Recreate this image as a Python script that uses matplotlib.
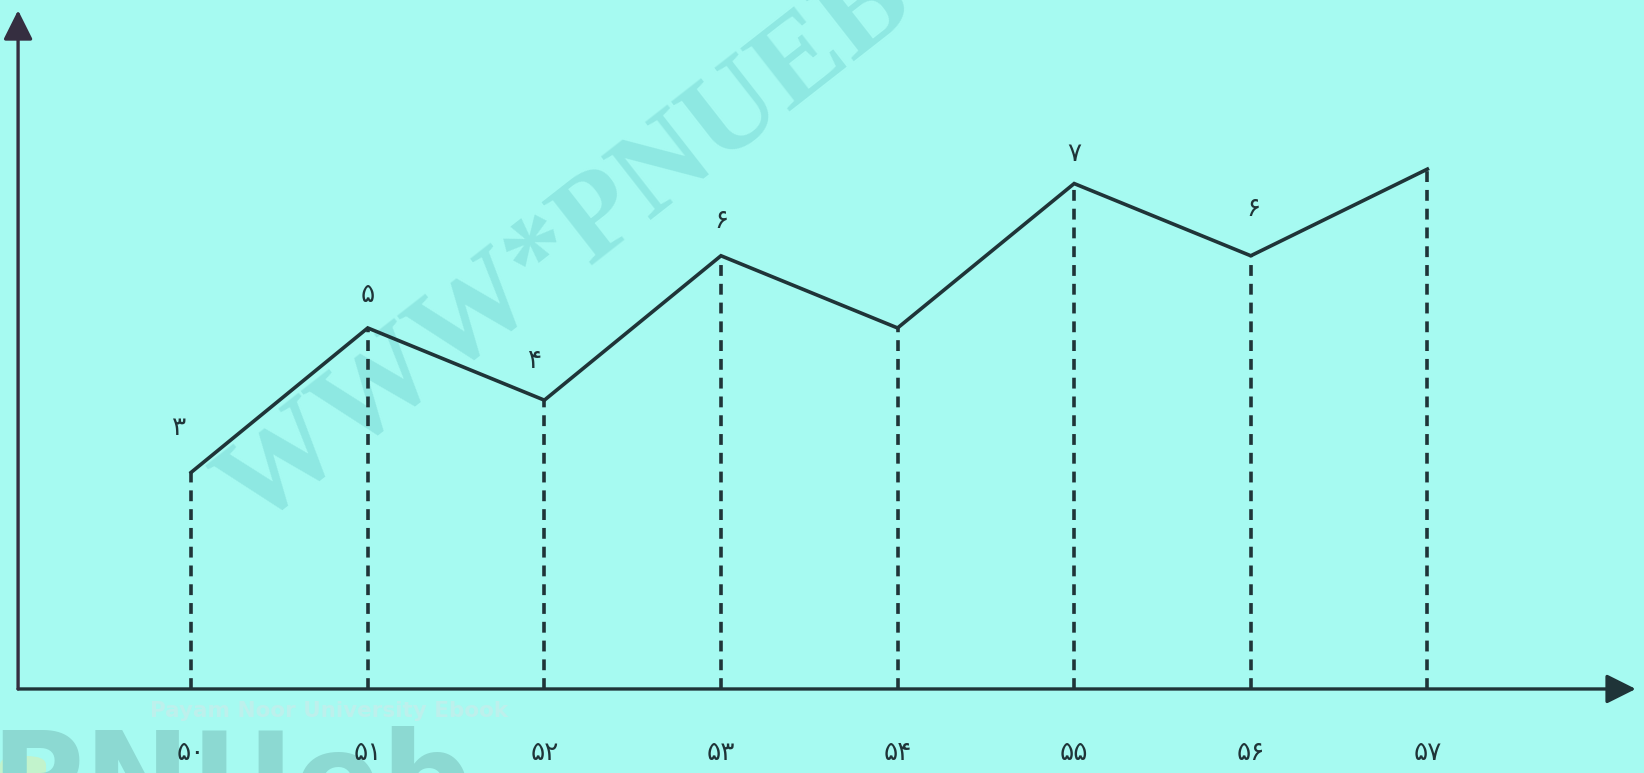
import numpy as np
import matplotlib.pyplot as plt
from matplotlib.patches import FancyBboxPatch

# data
years = [50, 51, 52, 53, 54, 55, 56, 57]
year_labels = ['۵۰', '۵۱', '۵۲', '۵۳', '۵۴', '۵۵', '۵۶', '۵۷']
values = [3, 5, 4, 6, 5, 7, 6, 7.2]
point_labels = ['۳', '۵', '۴', '۶', '', '۷', '۶', '']

BG = '#a6faf1'
INK = '#1f3438'

fig = plt.figure(figsize=(16.44, 7.73), dpi=100)
fig.patch.set_facecolor(BG)

# ---- background decorations (watermark / logo) ----
fig.text(0.345, 0.68, 'WWW*PNUEB', rotation=38, fontsize=88, fontweight='bold',
         family='Liberation Serif', color='#8ee8e2', ha='center', va='center', zorder=-2)
fig.patches.append(FancyBboxPatch((0.0, -0.05), 0.028, 0.072, boxstyle='round,pad=0,rounding_size=0.012',
                                  transform=fig.transFigure, facecolor='#c2f3cc',
                                  edgecolor='none', zorder=-3))
fig.text(-0.006, -0.066, 'PNUeb', fontsize=92, fontweight='bold', family='DejaVu Sans',
         color='#8cd9d2', ha='left', va='baseline', zorder=-2)
fig.text(0.091, 0.080, 'Payam Noor University Ebook', fontsize=15.5, fontweight='bold',
         family='DejaVu Sans', color='#bdf0ec', ha='left', va='center', zorder=-1)

ax = fig.add_axes([0.011, 0.1087, 0.984, 0.878])
ax.set_facecolor('none')
ax.set_xlim(49.02, 58.18)
ax.set_ylim(0, 9.40)
for s in ax.spines.values():
    s.set_visible(False)
ax.set_yticks([])

# axes with arrow heads
arrow = dict(arrowstyle='-|>,head_length=0.9,head_width=0.45', color=INK, lw=2.4,
             shrinkA=0, shrinkB=0, mutation_scale=20)
ax.annotate('', xy=(58.18, 0), xytext=(49.02, 0), arrowprops=arrow,
            annotation_clip=False)
ax.annotate('', xy=(49.02, 9.40), xytext=(49.02, 0), arrowprops=dict(arrow, color='#352e40'),
            annotation_clip=False)

# dashed drop lines
ax.vlines(years, 0, values, colors=INK, linestyles=(0, (3.0, 2.2)), lw=2.6)

# main line
ax.plot(years, values, color=INK, lw=2.6, solid_joinstyle='miter')

# value labels (offsets in points)
offsets = [(-9, 32), (0, 24), (-7, 28), (0, 25), None, (0, 21), (2, 34), None]
for x, y, lab, off in zip(years, values, point_labels, offsets):
    if not lab:
        continue
    ax.annotate(lab, (x, y), xytext=off, textcoords='offset points', fontsize=19,
                color=INK, ha='center', va='center', family='DejaVu Sans')

# x tick labels (Persian digits)
ax.set_xticks(years)
ax.set_xticklabels(year_labels, fontsize=19, color=INK, family='DejaVu Sans')
ax.tick_params(axis='x', length=0, pad=37)

fig.savefig('out.png', dpi=100, facecolor=BG)
